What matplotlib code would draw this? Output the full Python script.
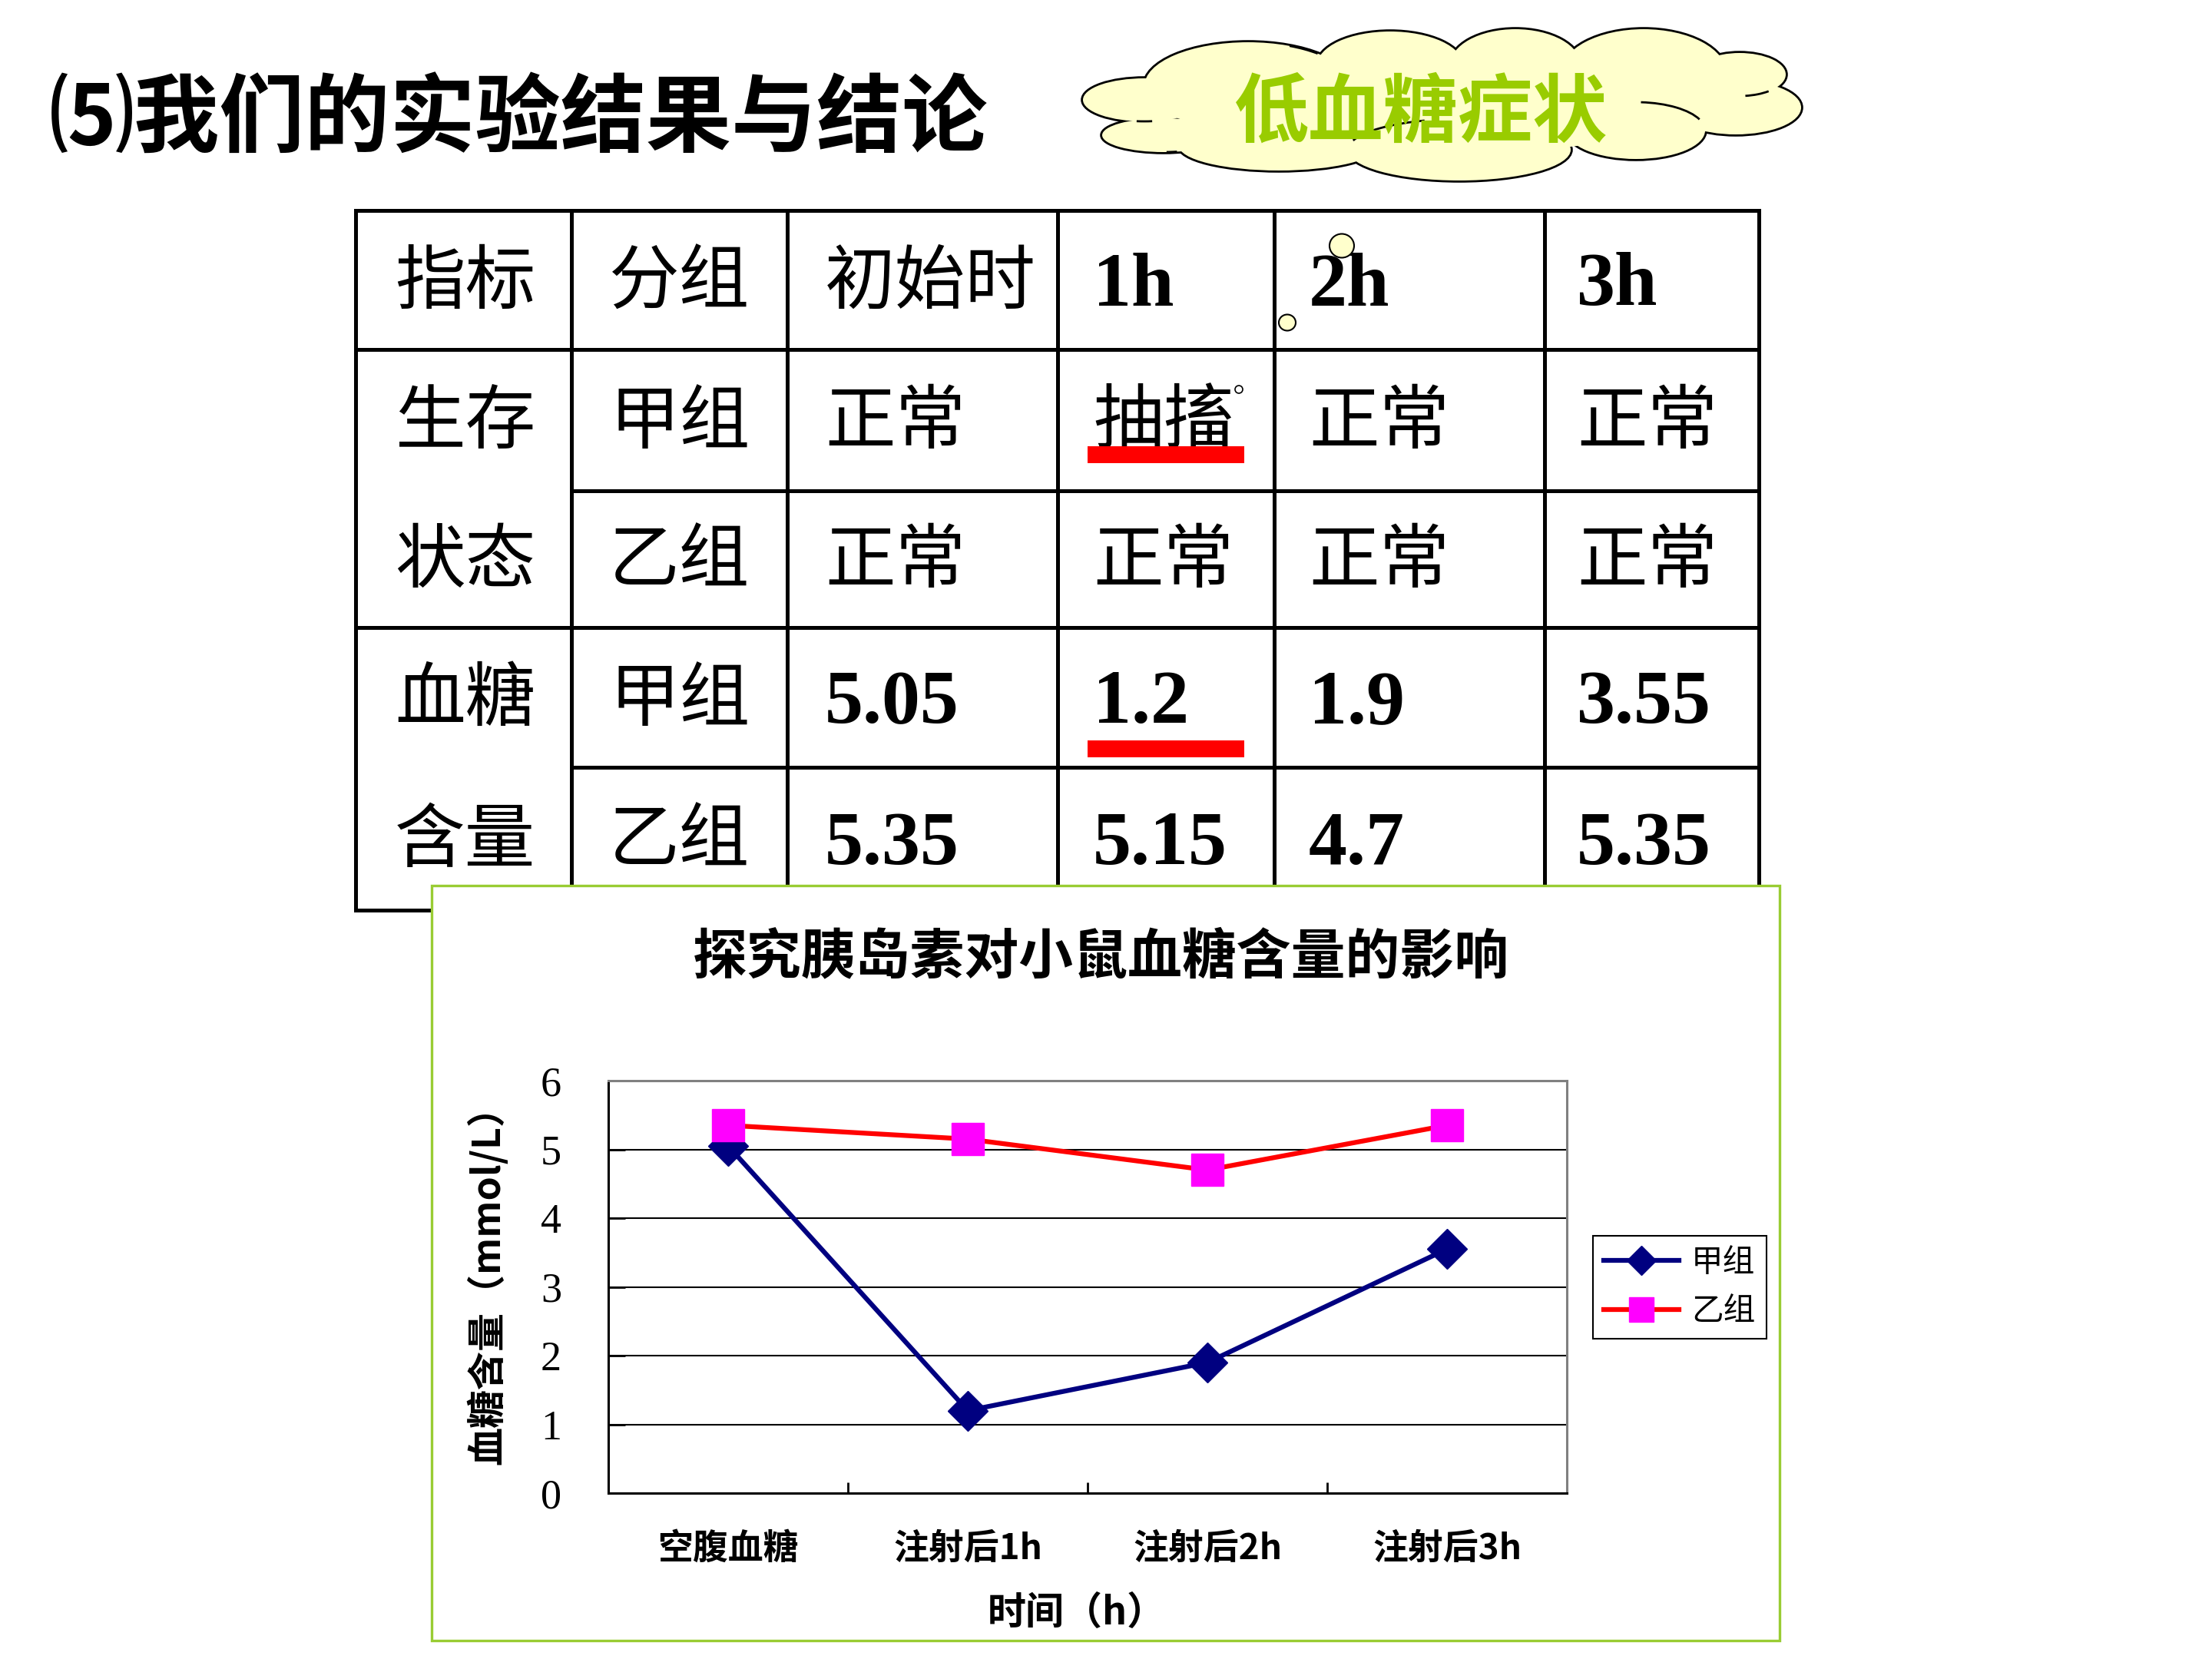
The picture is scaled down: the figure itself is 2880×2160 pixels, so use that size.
import matplotlib
matplotlib.use("Agg")
import matplotlib.pyplot as plt
import numpy as np
from matplotlib.patches import Arc, Ellipse, Rectangle
from matplotlib.font_manager import FontProperties

# ---- data -------------------------------------------------------------
categories = ["空腹血糖", "注射后1h", "注射后2h", "注射后3h"]
jia_glucose = [5.05, 1.2, 1.9, 3.55]
yi_glucose = [5.35, 5.15, 4.7, 5.35]
series_names = ["甲组", "乙组"]

table_header = ["指标", "分组", "初始时", "1h", "2h", "3h"]
index_names = [["生存", "状态"], ["血糖", "含量"]]
jia_state = ["正常", "抽搐", "正常", "正常"]
yi_state = ["正常", "正常", "正常", "正常"]

page_title = "⑸我们的实验结果与结论"
cloud_text = "低血糖症状"
chart_title = "探究胰岛素对小鼠血糖含量的影响"
x_title = "时间（h）"
y_title = "血糖含量（mmol/L）"

CJK = ["Noto Sans CJK SC", "DejaVu Sans"]
SERIF = ["Liberation Serif", "DejaVu Serif"]

W, H = 2880, 2160
fig = plt.figure(figsize=(W / 100, H / 100), dpi=100)
fig.patch.set_facecolor("white")

# background axes in pixel coordinates (y downwards)
bg = fig.add_axes([0, 0, 1, 1], zorder=0)
bg.set_xlim(0, W)
bg.set_ylim(H, 0)
bg.axis("off")

# ---- page title ---------------------------------------------------------
bg.text(64, 158, page_title, family=CJK, fontsize=80, fontweight="heavy",
        ha="left", va="center", color="black")

# ---- cloud (union of lobes, outline drawn first, fill on top) -----------
lobes = [
    (1490, 130, 160, 56),   # left upper
    (1515, 176, 160, 44),   # left lower
    (1625, 112, 270, 114),  # top left
    (1810, 85, 190, 88),
    (1973, 85, 170, 94),
    (2140, 95, 215, 114),   # top right
    (2265, 97, 120, 56),    # right upper
    (2260, 140, 170, 70),   # right lower
    (2130, 170, 180, 74),   # bottom right
    (1900, 195, 290, 80),   # bottom middle
    (1665, 190, 260, 64),   # bottom left
]
cloud_lw = 4.0
for cx, cy, w, h in lobes:
    bg.add_patch(Ellipse((cx, cy), w, h, fc="none", ec="black", lw=cloud_lw, zorder=3))
for cx, cy, w, h in lobes:
    bg.add_patch(Ellipse((cx, cy), w, h, fc="#FFFFCC", ec="none", zorder=4))
bg.add_patch(Ellipse((1880, 135), 650, 130, fc="#FFFFCC", ec="none", zorder=4))
# inner curl ends of the cloud outline
tails = [(0, 70, 110), (1, 51, 80), (2, 316, 335), (6, 30, 75),
         (8, 280, 350), (9, 185, 220)]
for i, t1, t2 in tails:
    cx, cy, w, h = lobes[i]
    bg.add_patch(Arc((cx, cy), w, h, theta1=t1, theta2=t2, color="black",
                     lw=cloud_lw / 2, zorder=5))
bg.text(1850, 148, cloud_text, family=CJK, fontsize=70, fontweight="bold",
        color="#99CC00", ha="center", va="center", zorder=6)

# ---- table --------------------------------------------------------------
col_x = [463, 744, 1025, 1377, 1659, 2011, 2290]
row_y = [274, 455, 639, 817, 999, 1185]
lw_tab = 3.6
for x in col_x:
    bg.plot([x, x], [row_y[0], row_y[-1]], color="black", lw=lw_tab, zorder=2,
            solid_capstyle="projecting")
for i, y in enumerate(row_y):
    x0 = col_x[1] if i in (2, 4) else col_x[0]
    bg.plot([x0, col_x[-1]], [y, y], color="black", lw=lw_tab, zorder=2,
            solid_capstyle="projecting")

pad = [51, 49, 49, 46, 45, 42]
row_mid = [(row_y[i] + row_y[i + 1]) / 2 for i in range(len(row_y) - 1)]


def cell(text, col, row):
    is_num = text[0].isdigit()
    if is_num:
        bg.text(col_x[col] + pad[col], row_mid[row] + 9, text, family=SERIF,
                fontsize=72, fontweight="bold", ha="left", va="center", zorder=2)
    else:
        bg.text(col_x[col] + pad[col], row_mid[row] + 4, text, family=CJK,
                fontsize=66, fontweight="medium", ha="left", va="center", zorder=2)


for c, t in enumerate(table_header):
    cell(t, c, 0)
cell(index_names[0][0], 0, 1)
cell(index_names[0][1], 0, 2)
cell(index_names[1][0], 0, 3)
cell(index_names[1][1], 0, 4)
for r, name in zip([1, 2, 3, 4], series_names * 2):
    cell(name, 1, r)
for c in range(4):
    cell(jia_state[c], c + 2, 1)
    cell(yi_state[c], c + 2, 2)
    cell(f"{jia_glucose[c]:g}", c + 2, 3)
    cell(f"{yi_glucose[c]:g}", c + 2, 4)

# red underlines under the key values
bg.add_patch(Rectangle((1416, 581), 204, 22, fc="#FF0000", ec="none", zorder=3))
bg.add_patch(Rectangle((1416, 964), 204, 22, fc="#FF0000", ec="none", zorder=3))

# small decorative circles
bg.add_patch(Ellipse((1747, 320), 32, 31, fc="#FFFFCC", ec="black", lw=1.5, zorder=3))
bg.add_patch(Ellipse((1676, 420), 22, 21, fc="#FFFFCC", ec="black", lw=1.5, zorder=3))
bg.add_patch(Ellipse((1613, 507), 10, 10, fc="white", ec="black", lw=1.2, zorder=3))

# ---- chart box ----------------------------------------------------------
bg.add_patch(Rectangle((562, 1153), 2317 - 562, 2136 - 1153, fc="white",
                       ec="#99CC33", lw=2.4, zorder=7))
bg.text(1433, 1246, chart_title, family=CJK, fontsize=51, fontweight="bold",
        ha="center", va="center", zorder=8)

# ---- line chart ---------------------------------------------------------
ax = fig.add_axes([792 / W, (H - 1944) / H, (2040 - 792) / W, (1944 - 1407) / H],
                  zorder=2)
xs = np.arange(len(categories))
ax.plot(xs, jia_glucose, color="#000080", lw=4.5, marker="D", ms=26,
        mfc="#000080", mec="#000080", label=series_names[0], zorder=3)
ax.plot(xs, yi_glucose, color="#FF0000", lw=4.5, marker="s", ms=30,
        mfc="#FF00FF", mec="#FF00FF", label=series_names[1], zorder=4)
ax.set_xlim(-0.5, 3.5)
ax.set_ylim(0, 6)
for yv in range(1, 6):
    ax.axhline(yv, color="black", lw=1.5, zorder=1)

for s in ("left", "bottom"):
    ax.spines[s].set_color("black")
    ax.spines[s].set_linewidth(2.2)
for s in ("top", "right"):
    ax.spines[s].set_color("#808080")
    ax.spines[s].set_linewidth(2.2)

ax.set_yticks(range(7))
ax.set_yticklabels([str(v) for v in range(7)], family=SERIF, fontsize=39)
ax.tick_params(axis="y", direction="in", length=16, width=2, pad=44)

ax.set_xticks(np.arange(-0.5, 4, 1))
ax.set_xticklabels([])
ax.tick_params(axis="x", which="major", direction="in", length=10, width=2)
ax.set_xticks(xs, minor=True)
ax.set_xticklabels(categories, minor=True, family=CJK, fontsize=33,
                   fontweight="bold")
ax.tick_params(axis="x", which="minor", length=0, pad=36)

ax.set_xlabel(x_title, family=CJK, fontsize=36, fontweight="bold")
ax.xaxis.label.set_va("center")
ax.xaxis.set_label_coords((1402 - 792) / 1248, (1944 - 2100) / 537)
ax.set_ylabel(y_title, family=CJK, fontsize=36, fontweight="bold")
ax.yaxis.label.set_va("center")
ax.yaxis.label.set_ha("center")
ax.yaxis.set_label_coords((635 - 792) / 1248, (1944 - 1661) / 537)

leg = ax.legend(loc="center left", bbox_to_anchor=(1.027, 0.499),
                prop=FontProperties(family=CJK, size=30), frameon=True,
                fancybox=False, edgecolor="black", framealpha=1,
                borderaxespad=0, handlelength=2.35, handletextpad=0.38,
                borderpad=0.35, labelspacing=0.55, markerscale=0.75)
leg.get_frame().set_linewidth(1.5)

fig.savefig("out.png", dpi=100)
